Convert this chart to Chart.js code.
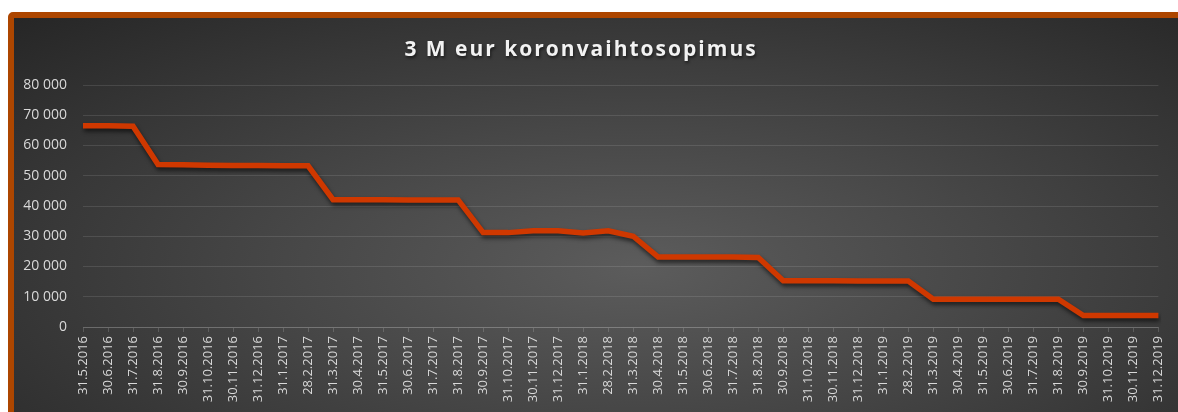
<!DOCTYPE html>
<html>
<head>
<meta charset="utf-8">
<script src="https://cdn.jsdelivr.net/npm/chart.js@4.4.1/dist/chart.umd.min.js"></script>
<style>
  html, body { margin: 0; padding: 0; background: #fff; overflow: hidden; }
  #frame {
    position: absolute;
    left: 8px;
    top: 12px;
    width: 1200px;
    height: 430px;
    border: 6px solid #ad4600;
    border-radius: 5px 0 0 0;
    background: radial-gradient(ellipse farthest-corner at 52% 58%, #5c5c5c 0%, #474747 40%, #262626 100%);
  }
  #chart { position: absolute; left: 0; top: 0; }
</style>
</head>
<body>
<div id="frame"></div>
<canvas id="chart" width="1178" height="412"></canvas>
<script>
// Chart data
const TITLE = "3 M eur koronvaihtosopimus";

const labels = [
  "31.5.2016", "30.6.2016", "31.7.2016", "31.8.2016", "30.9.2016", "31.10.2016",
  "30.11.2016", "31.12.2016", "31.1.2017", "28.2.2017", "31.3.2017", "30.4.2017",
  "31.5.2017", "30.6.2017", "31.7.2017", "31.8.2017", "30.9.2017", "31.10.2017",
  "30.11.2017", "31.12.2017", "31.1.2018", "28.2.2018", "31.3.2018", "30.4.2018",
  "31.5.2018", "30.6.2018", "31.7.2018", "31.8.2018", "30.9.2018", "31.10.2018",
  "30.11.2018", "31.12.2018", "31.1.2019", "28.2.2019", "31.3.2019", "30.4.2019",
  "31.5.2019", "30.6.2019", "31.7.2019", "31.8.2019", "30.9.2019", "31.10.2019",
  "30.11.2019", "31.12.2019",
];

const values = [
  66500, 66500, 66400, 53700, 53600, 53500,
  53400, 53400, 53300, 53300, 42100, 42100,
  42100, 42000, 42000, 42000, 31200, 31200,
  31800, 31800, 31100, 31800, 30000, 23100,
  23100, 23100, 23100, 23000, 15300, 15300,
  15300, 15200, 15200, 15200, 9200, 9200,
  9200, 9200, 9200, 9200, 3800, 3800,
  3800, 3800,
];

const yMin = 0;
const yMax = 80000;
const yStep = 10000;

// "80 000" style tick labels
function formatThousands(value) {
  return String(value).replace(/\B(?=(\d{3})+(?!\d))/g, " ");
}

const lineShadow = {
  id: "lineShadow",
  beforeDatasetsDraw(chart) {
    const ctx = chart.ctx;
    ctx.save();
    ctx.shadowColor = "rgba(0, 0, 0, 0.6)";
    ctx.shadowBlur = 4;
    ctx.shadowOffsetX = 1;
    ctx.shadowOffsetY = 3;
  },
  afterDatasetsDraw(chart) {
    chart.ctx.restore();
  },
};

const spacedTitle = {
  id: "spacedTitle",
  afterDraw(chart) {
    const ctx = chart.ctx;
    ctx.save();
    ctx.font = "bold 21px 'Open Sans'";
    ctx.letterSpacing = "2px";
    ctx.fillStyle = "#f2f2f2";
    ctx.textAlign = "center";
    ctx.textBaseline = "alphabetic";
    ctx.shadowColor = "rgba(0, 0, 0, 0.55)";
    ctx.shadowBlur = 3;
    ctx.shadowOffsetX = 1;
    ctx.shadowOffsetY = 2;
    ctx.fillText(TITLE, 581, 56);
    ctx.restore();
  },
};

const gridColor = "rgba(255, 255, 255, 0.11)";
const tickColor = "#d9d9d9";

new Chart(document.getElementById("chart"), {
  type: "line",
  data: {
    labels: labels,
    datasets: [
      {
        label: TITLE,
        data: values,
        borderColor: "#cf3800",
        borderWidth: 5.5,
        borderJoinStyle: "miter",
        pointRadius: 0,
        tension: 0,
        fill: false,
      },
    ],
  },
  options: {
    responsive: false,
    animation: false,
    layout: {
      padding: { left: 14, right: 11, top: 85, bottom: 0 },
    },
    plugins: {
      legend: { display: false },
      tooltip: { enabled: false },
      title: { display: false },
    },
    scales: {
      x: {
        offset: false,
        grid: {
          drawOnChartArea: false,
          drawTicks: true,
          tickLength: 5,
          color: "rgba(255, 255, 255, 0.16)",
        },
        border: { display: true, color: "rgba(255, 255, 255, 0.16)" },
        ticks: {
          autoSkip: false,
          maxRotation: 90,
          minRotation: 90,
          padding: 4,
          color: tickColor,
          font: { family: "'Open Sans'", size: 13 },
        },
        afterFit(scale) {
          scale.height = 85;
        },
      },
      y: {
        min: yMin,
        max: yMax,
        grid: {
          drawTicks: false,
          color: gridColor,
        },
        border: { display: false },
        ticks: {
          stepSize: yStep,
          padding: 16,
          color: tickColor,
          font: { family: "'Open Sans'", size: 14 },
          callback: (value) => formatThousands(value),
        },
        afterFit(scale) {
          scale.width = 69;
        },
      },
    },
  },
  plugins: [lineShadow, spacedTitle],
});
</script>
</body>
</html>
